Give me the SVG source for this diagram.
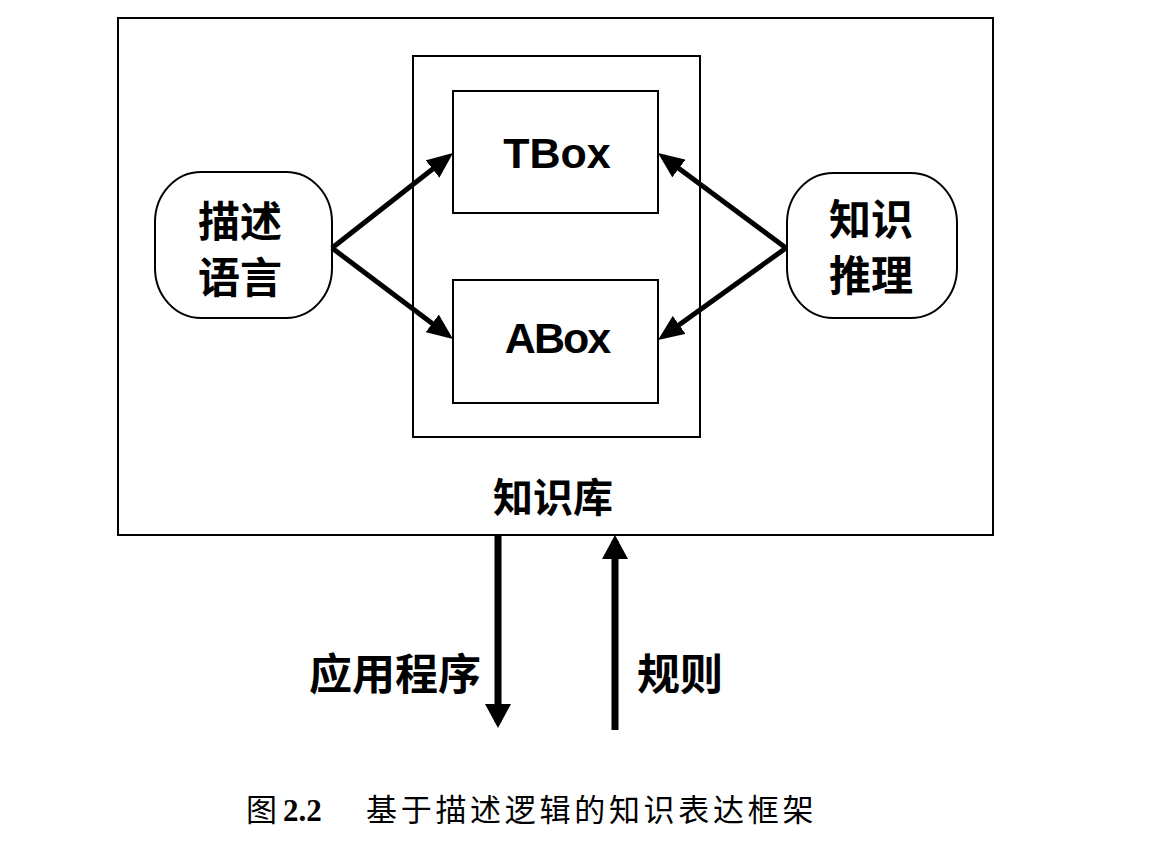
<svg xmlns="http://www.w3.org/2000/svg" width="1160" height="846" viewBox="0 0 1160 846">
<style>
.box{fill:none;stroke:#000;stroke-width:2}
.rnd{fill:#fff;stroke:#000;stroke-width:2}
.en{font-family:"Liberation Sans",Arial,sans-serif;font-weight:bold;font-size:43px;fill:#000;text-anchor:middle}
.cn{font-family:"Noto Sans CJK SC","Noto Sans",sans-serif;font-weight:bold;fill:#000;text-anchor:middle}
.conn{stroke:#000;stroke-width:5;fill:none}
.vconn{stroke:#000;stroke-width:7;fill:none}
.cap{font-family:"Liberation Serif","Noto Sans CJK SC",serif;font-size:31px;fill:#000}
</style>
<defs>
<marker id="ah" markerUnits="userSpaceOnUse" markerWidth="26" markerHeight="22" refX="20" refY="11" orient="auto" viewBox="0 0 26 22">
<path d="M0,0 L26,11 L0,22 z" fill="#000"/>
</marker>
<marker id="vh" markerUnits="userSpaceOnUse" markerWidth="24" markerHeight="26" refX="18" refY="13" orient="auto" viewBox="0 0 24 26">
<path d="M0,0 L24,13 L0,26 z" fill="#000"/>
</marker>
</defs>
<rect width="1160" height="846" fill="#fff"/>
<g id="kb">
<rect class="box" x="118" y="18" width="875" height="517"/>
<text class="cn" x="553" y="512" font-size="40">知识库</text>
</g>
<g id="container">
<rect class="box" x="413" y="56" width="287" height="381"/>
</g>
<g id="tbox">
<rect class="box" x="453" y="91" width="205" height="122"/>
<text class="en" x="557" y="168">TBox</text>
</g>
<g id="abox">
<rect class="box" x="453" y="280" width="205" height="123"/>
<text class="en" x="557" y="353" letter-spacing="-2">ABox</text>
</g>
<g id="desc">
<rect class="rnd" x="155" y="172" width="177" height="146" rx="46" ry="50"/>
<text class="cn" x="240" y="237" font-size="42">描述</text>
<text class="cn" x="240" y="293" font-size="42">语言</text>
</g>
<g id="reason">
<rect class="rnd" x="787" y="173" width="170" height="145" rx="46" ry="50"/>
<text class="cn" x="871" y="235" font-size="42">知识</text>
<text class="cn" x="871" y="291" font-size="42">推理</text>
</g>
<g id="connectors">
<line class="conn" x1="332" y1="248" x2="448.3" y2="156.7" marker-end="url(#ah)"/>
<line class="conn" x1="332" y1="248" x2="448.2" y2="335.4" marker-end="url(#ah)"/>
<line class="conn" x1="786" y1="248" x2="662.8" y2="156.6" marker-end="url(#ah)"/>
<line class="conn" x1="786" y1="248" x2="662.9" y2="336.5" marker-end="url(#ah)"/>
<line class="vconn" x1="498" y1="535" x2="498" y2="722" marker-end="url(#vh)"/>
<line class="vconn" x1="615" y1="730" x2="615" y2="541" marker-end="url(#vh)"/>
</g>
<g id="labels">
<text class="cn" x="395" y="690" font-size="43">应用程序</text>
<text class="cn" x="680" y="690" font-size="43">规则</text>
</g>
<g id="caption">
<text class="cap" x="246" y="821">图</text>
<text class="cap" x="283" y="821" font-weight="bold" font-size="29">2.2</text>
<text class="cap" x="366" y="821" letter-spacing="3.7">基于描述逻辑的知识表达框架</text>
</g>
</svg>
